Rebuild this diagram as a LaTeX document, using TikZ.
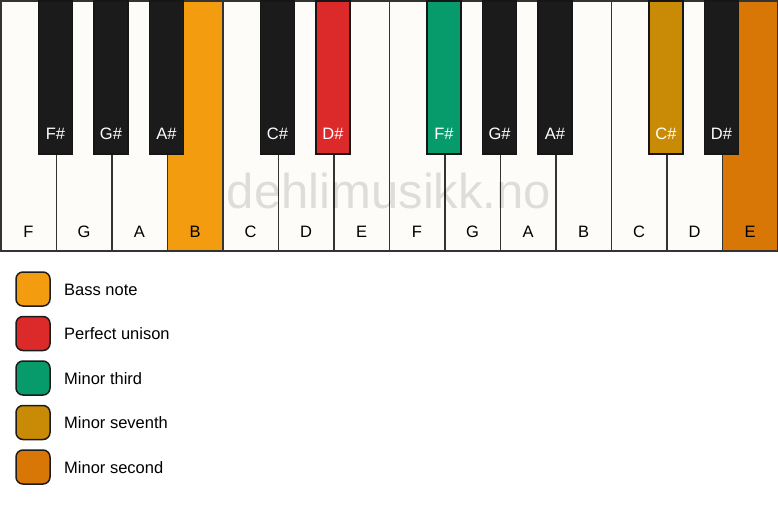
\documentclass[tikz,border=0pt]{standalone}
\usepackage{fontspec}
\setmainfont{Liberation Sans}

\definecolor{keywhite}{HTML}{FDFCF8}
\definecolor{keyblack}{HTML}{1B1B1B}
\definecolor{keyline}{HTML}{333333}
\definecolor{bassnote}{HTML}{F39C0F}
\definecolor{unison}{HTML}{DC2A2A}
\definecolor{minthird}{HTML}{079A6B}
\definecolor{minseventh}{HTML}{C98A05}
\definecolor{minsecond}{HTML}{D97706}

\begin{document}
\begin{tikzpicture}[x=1pt, y=-1pt,
    every node/.style={font=\fontsize{16.5}{19}\selectfont},
    whitekey/.style={draw=keyline, line width=1.5pt, minimum width=55.5pt,
        minimum height=250pt, anchor=north west, inner sep=0pt},
    blackkey/.style={draw=keyblack!80!black, line width=1.5pt, minimum width=34pt,
        minimum height=153pt, anchor=north, inner sep=0pt},
    whitetext/.style={anchor=base, text=black, inner sep=0pt},
    blacktext/.style={anchor=base, text=white, inner sep=0pt},
    legendbox/.style={draw=keyblack, line width=1.5pt, rounded corners=7pt,
        minimum size=34pt, inner sep=0pt},
    legendtext/.style={anchor=base west, text=black, inner sep=0pt},
]
\useasboundingbox[fill=white] (0,0) rectangle (778,506);

% white keys
\foreach \note/\col [count=\i from 0] in {F/keywhite, G/keywhite, A/keywhite, B/bassnote,
        C/keywhite, D/keywhite, E/keywhite, F/keywhite, G/keywhite, A/keywhite,
        B/keywhite, C/keywhite, D/keywhite, E/minsecond}
{
    \node[whitekey, fill=\col] (w\i) at (\i*55.5, 0) {};
    \node[whitetext] (wl\i) at ([yshift=14.5pt]w\i.south) {\note};
}

\node[anchor=base, text=black, opacity=0.12, inner sep=0pt, font=\fontsize{49}{58}\selectfont]
    (watermark) at (389, 208) {dehlimusikk.no};

% black keys
\foreach \k/\note/\col in {1/F\#/keyblack, 2/G\#/keyblack, 3/A\#/keyblack,
        5/C\#/keyblack, 6/D\#/unison, 8/F\#/minthird, 9/G\#/keyblack,
        10/A\#/keyblack, 12/C\#/minseventh, 13/D\#/keyblack}
{
    \node[blackkey, fill=\col] (b\k) at (\k*55.5, 0) {};
    \node[blacktext] (bl\k) at ([yshift=15.5pt]b\k.south) {\note};
}

% legend
\foreach \col/\name [count=\i from 0] in {bassnote/Bass note, unison/Perfect unison,
        minthird/Minor third, minseventh/Minor seventh, minsecond/Minor second}
{
    \node[legendbox, fill=\col] (lg\i) at (33, 289+\i*44.5) {};
    \node[legendtext] (lt\i) at (64, 295+\i*44.5) {\name};
}

\end{tikzpicture}
\end{document}
